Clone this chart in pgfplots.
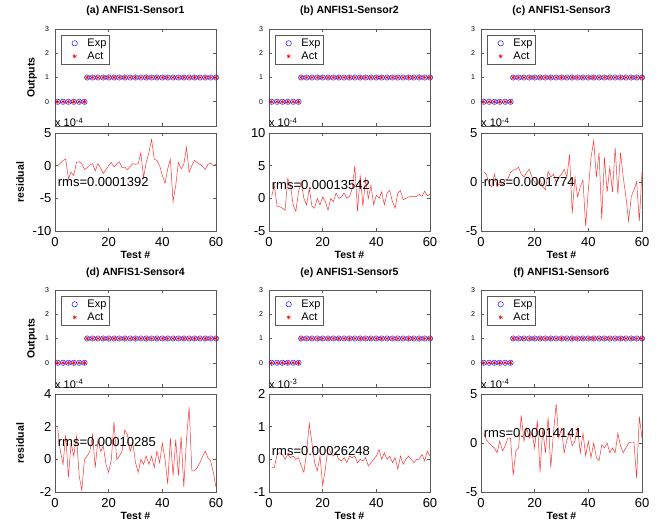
\documentclass[border=0pt]{standalone}
\usepackage{fontspec}
\setmainfont{Liberation Sans}
\usepackage{pgfplots}
\usepackage{pgfplotstable}
\pgfplotsset{compat=1.18}

\pgfplotstableread{
x y
1 0
3 0
5 0
7 0
9 0
11 0
12 1
14 1
16 1
18 1
20 1
22 1
24 1
26 1
28 1
30 1
32 1
34 1
36 1
38 1
40 1
42 1
44 1
46 1
48 1
50 1
52 1
54 1
56 1
58 1
60 1
}\outtab

\pgfplotstableread{
x y
1 0
2 0.4
3 0.8
4 1.0
5 -2.0
6 -1.0
7 -1.5
8 0.5
9 0.6
10 0.3
11 -0.6
12 -0.3
13 0.1
14 0.3
15 -0.8
16 0.3
17 -0.4
18 -1.2
19 -0.6
20 0.0
21 0.5
22 -0.2
23 0.2
24 0.6
25 -0.3
26 -0.2
27 -0.6
28 -0.1
29 0.3
30 0.2
31 0.3
32 2.0
33 -1.8
34 0.5
35 2.0
36 4.0
37 1.0
38 0.8
39 0.0
40 -1.5
41 -2.7
42 -0.5
43 1.0
44 -5.5
45 -3.0
46 0.5
47 -0.5
48 0.2
49 2.8
50 -1.0
51 0.0
52 0.8
53 0.5
54 0.2
55 -0.1
56 -0.6
57 0.2
58 0.4
59 0.0
60 0.2
}\resa

\pgfplotstableread{
x y
1 0.3
2 2.0
3 -1.2
4 -1.3
5 -1.5
6 -1.8
7 3.0
8 2.0
9 -1.0
10 -2.0
11 1.0
12 2.5
13 0.0
14 -1.0
15 1.5
16 -1.2
17 -1.5
18 0.0
19 -1.0
20 0.2
21 -0.5
22 -1.8
23 0.0
24 -0.5
25 0.8
26 0.0
27 0.2
28 0.8
29 0.0
30 0.3
31 1.5
32 5.0
33 -2.0
34 3.5
35 -1.2
36 3.0
37 0.0
38 2.0
39 -1.0
40 0.5
41 0.0
42 1.0
43 -1.0
44 0.8
45 1.2
46 -0.5
47 -1.5
48 0.8
49 1.2
50 -0.2
51 0.0
52 0.2
53 0.3
54 0.3
55 0.3
56 0.6
57 0.3
58 1.1
59 0.4
60 0.6
}\resb

\pgfplotstableread{
x y
1 1.0
2 0.8
3 -0.2
4 -0.5
5 0.8
6 -0.5
7 0.0
8 -0.3
9 0.2
10 0.3
11 1.0
12 1.2
13 1.3
14 1.5
15 0.8
16 0.5
17 1.0
18 1.3
19 0.5
20 0.0
21 -0.3
22 0.2
23 -0.5
24 -0.8
25 1.1
26 0.5
27 0.8
28 0.0
29 0.5
30 0.8
31 1.3
32 0.5
33 2.8
34 -3.2
35 0.5
36 -1.5
37 -0.5
38 0.2
39 -4.5
40 -0.8
41 2.5
42 4.2
43 0.5
44 3.0
45 -3.8
46 2.5
47 -1.0
48 1.5
49 -1.0
50 3.5
51 -1.2
52 3.0
53 0.5
54 -1.5
55 -4.0
56 -1.5
57 -0.8
58 0.0
59 -4.0
60 1.0
}\resc

\pgfplotstableread{
x y
1 1.9
2 0.5
3 -0.3
4 1.5
5 -1.1
6 1.0
7 0.2
8 1.4
9 -1.0
10 -1.9
11 0.0
12 0.2
13 0.5
14 1.5
15 -0.5
16 1.2
17 0.5
18 0.8
19 -0.3
20 -0.8
21 0.0
22 2.3
23 0.0
24 0.2
25 0.5
26 1.8
27 1.5
28 0.5
29 1.0
30 -0.2
31 -0.8
32 0.0
33 -0.3
34 0.2
35 -0.3
36 0.2
37 -0.5
38 0.5
39 -0.2
40 1.0
41 0.0
42 -1.5
43 1.3
44 -1.0
45 1.2
46 -1.0
47 1.4
48 -1.7
49 1.2
50 3.2
51 -0.7
52 -0.7
53 -0.5
54 -0.2
55 0.2
56 0.5
57 0.1
58 -0.1
59 -0.8
60 -1.7
}\resd

\pgfplotstableread{
x y
1 -0.25
2 -0.25
3 0.15
4 0.2
5 0.15
6 0.0
7 0.15
8 0.05
9 0.1
10 0.0
11 0.05
12 -0.2
13 -0.4
14 0.2
15 1.1
16 0.5
17 -0.1
18 -0.35
19 0.1
20 -0.8
21 -0.3
22 0.4
23 0.2
24 0.1
25 0.2
26 0.0
27 -0.05
28 0.05
29 -0.1
30 0.1
31 0.05
32 0.1
33 -0.1
34 0.0
35 -0.05
36 0.05
37 -0.2
38 -0.1
39 0.0
40 0.1
41 0.3
42 0.0
43 0.2
44 0.0
45 0.1
46 -0.1
47 0.05
48 -0.3
49 0.1
50 -0.15
51 0.0
52 0.1
53 0.0
54 -0.1
55 0.0
56 0.0
57 0.15
58 -0.05
59 0.25
60 0.1
}\rese

\pgfplotstableread{
x y
1 1.0
2 0.3
3 0.0
4 -0.3
5 -0.5
6 -1.0
7 0.2
8 -0.8
9 -0.3
10 0.5
11 0.5
12 -3.3
13 -0.8
14 -0.5
15 2.8
16 0.2
17 1.5
18 0.5
19 1.0
20 -0.5
21 2.3
22 -3.0
23 1.5
24 -1.0
25 2.6
26 -2.5
27 1.0
28 4.0
29 0.5
30 1.5
31 -1.0
32 0.3
33 1.0
34 -0.3
35 0.2
36 1.5
37 -1.0
38 1.0
39 -1.3
40 0.2
41 -1.5
42 0.0
43 -1.5
44 -1.8
45 -0.2
46 -0.5
47 0.0
48 -1.0
49 -0.5
50 -1.0
51 1.0
52 -0.3
53 -1.0
54 -0.5
55 0.0
56 0.1
57 0.1
58 -3.6
59 2.7
60 0.5
}\resf

\pgfplotsset{
  common/.style={
    scale only axis, width=161pt, anchor=north west,
    axis line style={black!65, line width=0.5pt},
    tick style={black!65, line width=0.5pt},
    tick align=inside, major tick length=3pt,
    /pgf/number format/assume math mode=true,
    clip=false,
    xmin=0, xmax=60, xtick={0,20,40,60},
  },
  outstyle/.style={
    common, height=97pt,
    xticklabels={},
    ymin=-1, ymax=3, ytick={-1,0,1,2,3}, yticklabels={,0,1,2,3},
    yticklabel style={font=\fontsize{7}{8}\selectfont, xshift=-2.5pt},
    title style={at={(axis description cs:0.5,1)}, anchor=base, yshift=9pt,
      font=\bfseries\fontsize{10.5}{12}\selectfont},
    ylabel style={at={(axis description cs:-0.143,0.5)}, anchor=center,
      font=\bfseries\fontsize{10.5}{12}\selectfont},
    legend style={at={(axis description cs:0.037,0.938)}, anchor=north west,
      font=\fontsize{11}{12}\selectfont, draw=black!65, line width=0.5pt,
      inner xsep=1pt, inner ysep=1.5pt, row sep=0pt},
    legend cell align=left,
    legend image code/.code={%
      \path (0cm,0cm) (0.8cm,0cm);
      \draw[##1] plot coordinates {(0.43cm,0cm)};},
  },
  resstyle/.style={
    common, height=98pt,
    ticklabel style={font=\fontsize{13}{15}\selectfont},
    xticklabel style={yshift=-2.5pt},
    xlabel={Test \#},
    xlabel style={at={(axis description cs:0.5,0)}, anchor=base, yshift=-27pt,
      font=\bfseries\fontsize{10.5}{12}\selectfont},
    ylabel style={at={(axis description cs:-0.217,0.5)}, anchor=center,
      font=\bfseries\fontsize{10.5}{12}\selectfont},
  },
}

% #1 left, #2 top, #3 title, #4 table, #5 exponent, #6 rms text, #7 rms y, #8 residual options, #9 output options
\newcommand\panel[9]{%
\begin{axis}[outstyle, at={(#1pt,#2pt)}, title={#3}, #9]
\addplot[only marks, mark=o, mark size=2.7pt, blue!90, mark options={line width=0.5pt}] table {\outtab};
\addplot[only marks, mark=asterisk, mark size=2pt, red, mark options={line width=0.6pt}] table {\outtab};
\legend{Exp,Act}
\end{axis}
\begin{axis}[resstyle, at={({#1pt},{#2pt-104pt})}, #8,
  extra description/.code={\node[anchor=base west, inner sep=0, yshift=6pt, font=\fontsize{11}{12}\selectfont] at (0,1) {x 10\textsuperscript{#5}};}]
\addplot[red!80, line width=0.5pt] table {#4};
\node[anchor=west, inner sep=0, font=\fontsize{13}{15}\selectfont] at (axis cs:1,#7) {#6};
\end{axis}}

\begin{document}
\begin{tikzpicture}
\useasboundingbox (0,0) rectangle (661pt,523pt);
\panel{55}{494}{(a) ANFIS1-Sensor1}{\resa}{-4}{rms=0.0001392}{-2.5}{ymin=-10,ymax=5,ytick={-10,-5,0,5},ylabel=residual}{ylabel=Outputs}
\panel{269}{494}{(b) ANFIS1-Sensor2}{\resb}{-4}{rms=0.00013542}{2}{ymin=-5,ymax=10,ytick={-5,0,5,10}}{}
\panel{481}{494}{(c) ANFIS1-Sensor3}{\resc}{-4}{rms=0.0001774}{0}{ymin=-5,ymax=5,ytick={-5,0,5}}{}
\panel{55}{233}{(d) ANFIS1-Sensor4}{\resd}{-4}{rms=0.00010285}{1.05}{ymin=-2,ymax=4,ytick={-2,0,2,4},ylabel=residual}{ylabel=Outputs}
\panel{269}{233}{(e) ANFIS1-Sensor5}{\rese}{-3}{rms=0.00026248}{0.25}{ymin=-1,ymax=2,ytick={-1,0,1,2}}{}
\panel{481}{233}{(f) ANFIS1-Sensor6}{\resf}{-4}{rms=0.00014141}{1}{ymin=-5,ymax=5,ytick={-5,0,5}}{}
\end{tikzpicture}
\end{document}
